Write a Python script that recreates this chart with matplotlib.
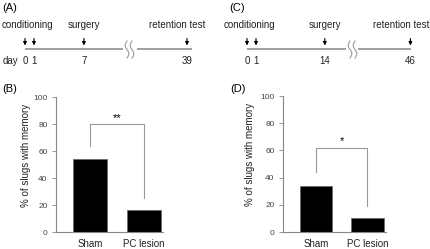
import numpy as np
import matplotlib.pyplot as plt

plt.rcParams['font.family'] = ['Liberation Sans', 'DejaVu Sans']

# timelines (days)
days_a = [0, 1, 7, 39]
days_c = [0, 1, 14, 46]
events = ['conditioning', 'surgery', 'retention test']

# bar panels
groups = ['Sham', 'PC lesion']
memory_b = [54, 16]
memory_d = [34, 10]
bracket_b = 80
bracket_d = 62
stars_b = '**'
stars_d = '*'
yticks = [0, 20, 40, 60, 80, 100]

W, H = 430, 249
fig = plt.figure(figsize=(W / 100, H / 100), dpi=100)

GRAY = '#999999'
AXC = '#888888'
TXT = '#222222'


def px_axes(x0, y0, x1, y1):
    return fig.add_axes([x0 / W, 1 - y1 / H, (x1 - x0) / W, (y1 - y0) / H])


def arrow(ax, d):
    ax.annotate('', xy=(d, 45.5), xytext=(d, 38.5),
                arrowprops=dict(arrowstyle='-|>', color='black', lw=0.8,
                                mutation_scale=5, shrinkA=0, shrinkB=0))


def day_scale(r):
    # the drawing is not to scale: the first day is stretched by r
    def fwd(d):
        d = np.asarray(d, dtype=float)
        return np.where(d < 1, d * r, r + (d - 1))

    def inv(u):
        u = np.asarray(u, dtype=float)
        return np.where(u < r, u / r, u - r + 1)
    return fwd, inv


def timeline(days, seg1, seg2, span1, span2, r, gap, label, label_x, show_day):
    # left part of the broken time axis
    ax1 = px_axes(seg1[0], 18, seg1[1], 70)
    ax1.set_xscale('function', functions=day_scale(r))
    ax1.set_xlim(0, span1)
    ax1.set_ylim(70, 18)
    ax1.axis('off')
    ax1.plot([0, 1, span1], [49, 49, 49], color=GRAY, lw=1.3, solid_capstyle='butt')
    for d in days[:3]:
        arrow(ax1, d)
        ax1.text(d, 61, str(d), ha='center', va='center', fontsize=7, color=TXT)
    ax1.annotate(events[0], xy=(days[0], 25), xytext=(2, 0), textcoords='offset points',
                 ha='center', va='center', fontsize=7, color=TXT)
    ax1.text(days[2], 25, events[1], ha='center', va='center', fontsize=7, color=TXT)
    if show_day:
        ax1.annotate('day', xy=(days[0], 61), xytext=(-5, 0), textcoords='offset points',
                     ha='right', va='center', fontsize=7, color=TXT)

    # right part after the break
    end = days[3] + (0.6 if show_day else 0.1)
    ax2 = px_axes(seg2[0], 18, seg2[1], 70)
    ax2.set_xlim(days[3] - span2, end)
    ax2.set_ylim(70, 18)
    ax2.axis('off')
    ax2.plot([days[3] - span2, end], [49, 49], color=GRAY, lw=1.3, solid_capstyle='butt')
    arrow(ax2, days[3])
    ax2.text(days[3], 61, str(days[3]), ha='center', va='center', fontsize=7, color=TXT)
    ax2.annotate(events[2], xy=(days[3], 25), xytext=(-7, 0), textcoords='offset points',
                 ha='center', va='center', fontsize=7, color=TXT)

    # break symbol
    axb = px_axes(gap[0], 36, gap[1], 64)
    axb.set_xlim(gap[0], gap[1])
    axb.set_ylim(64, 36)
    axb.axis('off')
    yy = np.linspace(41, 58, 60)
    for xc in (gap[0] + 4, gap[0] + 9):
        axb.plot(xc - 1.8 * np.sin(2 * np.pi * (yy - 41) / 17), yy, color=GRAY, lw=0.8)

    fig.text(label_x / W, 1 - 8 / H, label, ha='left', va='center', fontsize=8)


timeline(days_a, (25, 123), (137, 192), 11.7, 6.0, 1.08, (123, 137), '(A)', 2, True)
timeline(days_c, (247, 346), (358, 411), 18.0, 9.3, 1.7, (346, 358), '(C)', 229, False)


def bar_panel(rect, values, top, stars, label, label_x, ylab_px):
    ax = px_axes(*rect)
    x = np.arange(len(groups))
    ax.bar(x, values, width=0.63, color='black', edgecolor='#666666', lw=0.5)
    ax.set_xlim(-0.64, 1.36)
    ax.set_ylim(0, 100)
    ax.set_yticks(yticks)
    ax.set_xticks(x)
    ax.set_xticklabels(groups, fontsize=7, color=TXT)
    ax.tick_params(axis='x', length=0, pad=5)
    ax.tick_params(axis='y', length=3, width=0.6, color=AXC, labelsize=6,
                   labelcolor='#444444', pad=3)
    for s in ('top', 'right'):
        ax.spines[s].set_visible(False)
    for s in ('left', 'bottom'):
        ax.spines[s].set_color(AXC)
        ax.spines[s].set_linewidth(0.8)
    ax.set_ylabel('% of slugs with memory', fontsize=7, color=TXT)
    ax.yaxis.set_label_coords(ylab_px / (rect[2] - rect[0]), 0.57)
    ax.plot([0, 0, 1, 1], [values[0] + 10, top, top, values[1] + 9], color=GRAY, lw=0.8)
    ax.text(0.5, top + 1, stars, ha='center', va='bottom', fontsize=8)
    fig.text(label_x / W, 1 - 89 / H, label, ha='left', va='center', fontsize=8)


bar_panel((56, 97, 163, 232), memory_b, bracket_b, stars_b, '(B)', 2, -25)
bar_panel((283, 96, 386, 232), memory_d, bracket_d, stars_d, '(D)', 230, -28)

fig.savefig('out.png', dpi=100)
